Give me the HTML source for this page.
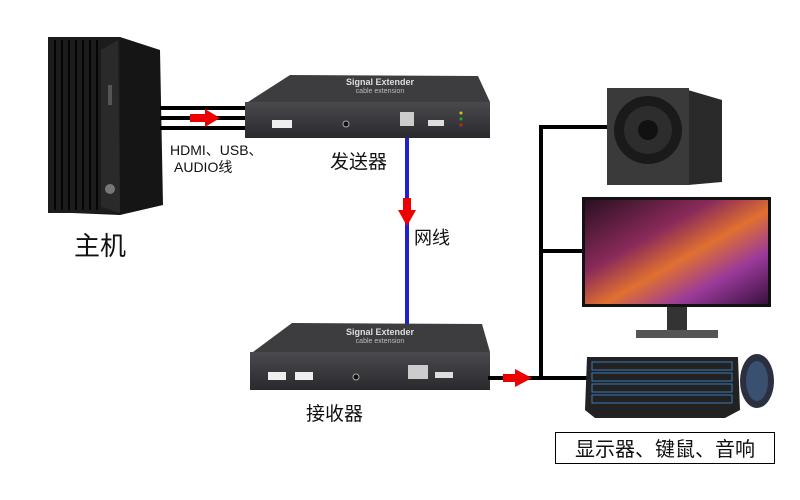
<!DOCTYPE html>
<html><head><meta charset="utf-8"><style>
html,body{margin:0;padding:0;background:#fff}
svg{display:block}
text{font-family:"Liberation Sans","Noto Sans CJK SC",sans-serif}
</style></head><body>
<svg width="800" height="500" viewBox="0 0 800 500" xmlns="http://www.w3.org/2000/svg">
<defs>
<linearGradient id="scr" x1="0" y1="0" x2="1" y2="1">
<stop offset="0" stop-color="#2a1020"/><stop offset="0.35" stop-color="#8a2a5a"/><stop offset="0.55" stop-color="#e07030"/><stop offset="0.75" stop-color="#9a3a9a"/><stop offset="1" stop-color="#3a1040"/>
</linearGradient>
<linearGradient id="box" x1="0" y1="0" x2="0" y2="1"><stop offset="0" stop-color="#4a4a4e"/><stop offset="1" stop-color="#2a2a2e"/></linearGradient>
</defs>

<!-- PC tower -->
<path d="M48 37 L120 37 L160 50 L163 205 L120 215 L48 212 Z" fill="#151515"/>
<rect x="48" y="37" width="72" height="176" fill="#1c1c1c"/>
<g stroke="#050505" stroke-width="2">
<line x1="55" y1="40" x2="55" y2="210"/><line x1="62" y1="40" x2="62" y2="210"/><line x1="69" y1="40" x2="69" y2="210"/><line x1="76" y1="40" x2="76" y2="210"/><line x1="83" y1="40" x2="83" y2="210"/><line x1="90" y1="40" x2="90" y2="210"/><line x1="97" y1="40" x2="97" y2="210"/>
</g>
<path d="M101 50 L118 40 L120 213 L101 207 Z" fill="#2a2a2a"/>
<circle cx="110" cy="189" r="5" fill="#777"/>
<rect x="108" y="85" width="4" height="20" fill="#555"/>
<text x="100" y="255" font-size="26" text-anchor="middle" fill="#111">主机</text>

<!-- HDMI cables -->
<g stroke="#000" stroke-width="4">
<line x1="160" y1="108" x2="250" y2="108"/><line x1="160" y1="118" x2="250" y2="118"/><line x1="160" y1="128" x2="250" y2="128"/>
</g>
<path d="M190 114 L205 114 L205 109 L220 118 L205 127 L205 122 L190 122 Z" fill="#e00"/>
<text x="170" y="155" font-size="14" fill="#111">HDMI、USB、</text>
<text x="174" y="172" font-size="14" fill="#111">AUDIO线</text>

<!-- Sender -->
<path d="M248 102 L290 75 L478 76 L490 102 Z" fill="#3d3d40"/>
<text x="380" y="85" font-size="9" font-weight="bold" fill="#ddd" text-anchor="middle">Signal Extender</text>
<text x="380" y="93" font-size="7" fill="#bbb" text-anchor="middle">cable extension</text>
<rect x="245" y="102" width="245" height="36" fill="url(#box)"/>
<rect x="272" y="120" width="20" height="8" fill="#eee"/>
<circle cx="346" cy="124" r="3" fill="#111" stroke="#aaa"/>
<rect x="400" y="112" width="14" height="14" fill="#ccc"/>
<rect x="428" y="120" width="16" height="6" fill="#ddd"/>
<circle cx="461" cy="113" r="1.5" fill="#cc0"/><circle cx="461" cy="119" r="1.5" fill="#2a2"/><circle cx="461" cy="125" r="1.5" fill="#c22"/>
<text x="330" y="168" font-size="19" fill="#111">发送器</text>

<!-- network cable -->
<line x1="407" y1="138" x2="407" y2="325" stroke="#2020d0" stroke-width="4"/>
<path d="M403 198 L411 198 L411 210 L416 210 L407 226 L398 210 L403 210 Z" fill="#e00"/>
<text x="414" y="244" font-size="18" fill="#111">网线</text>

<!-- Receiver -->
<path d="M253 352 L292 323 L482 324 L490 352 Z" fill="#3d3d40"/>
<text x="380" y="335" font-size="9" font-weight="bold" fill="#ddd" text-anchor="middle">Signal Extender</text>
<text x="380" y="343" font-size="7" fill="#bbb" text-anchor="middle">cable extension</text>
<rect x="250" y="352" width="240" height="38" fill="url(#box)"/>
<rect x="268" y="372" width="18" height="8" fill="#eee"/><rect x="295" y="372" width="18" height="8" fill="#eee"/>
<circle cx="356" cy="377" r="3" fill="#111" stroke="#aaa"/>
<rect x="408" y="365" width="20" height="14" fill="#ccc"/>
<rect x="435" y="372" width="18" height="6" fill="#ddd"/>
<text x="306" y="420" font-size="19" fill="#111">接收器</text>

<!-- output lines -->
<g stroke="#000" stroke-width="4" fill="none">
<line x1="488" y1="378" x2="587" y2="378"/>
<line x1="541" y1="378" x2="541" y2="127"/>
<line x1="539" y1="127" x2="608" y2="127"/>
<line x1="541" y1="251" x2="584" y2="251"/>
</g>
<path d="M503 374 L515 374 L515 369 L532 378 L515 387 L515 382 L503 382 Z" fill="#e00"/>

<!-- speaker -->
<path d="M688 90 L722 100 L722 182 L688 185 Z" fill="#2a2a2a"/>
<rect x="607" y="88" width="82" height="97" fill="#3a3a3a"/>
<circle cx="648" cy="130" r="34" fill="#1a1a1a"/>
<circle cx="648" cy="130" r="24" fill="#2d2d2d"/>
<circle cx="648" cy="130" r="10" fill="#111"/>

<!-- monitor -->
<rect x="582" y="197" width="189" height="110" fill="#111"/>
<rect x="585" y="200" width="183" height="104" fill="url(#scr)"/>
<rect x="667" y="307" width="20" height="25" fill="#333"/>
<rect x="636" y="330" width="82" height="8" fill="#555"/>

<!-- keyboard -->
<path d="M587 357 L738 357 L740 410 L725 418 L595 418 L585 410 Z" fill="#222"/>
<g fill="none" stroke="#3a7ab8" stroke-width="1">
<rect x="592" y="362" width="140" height="8"/><rect x="592" y="373" width="140" height="8"/><rect x="592" y="384" width="140" height="8"/><rect x="592" y="395" width="140" height="8"/>
</g>
<ellipse cx="757" cy="381" rx="17" ry="27" fill="#2a3040"/>
<ellipse cx="757" cy="381" rx="11" ry="20" fill="#3a5070"/>

<!-- label box -->
<rect x="555.5" y="432.5" width="219" height="31" fill="#fff" stroke="#000" stroke-width="1"/>
<text x="665" y="456" font-size="20" fill="#111" text-anchor="middle">显示器、键鼠、音响</text>
</svg>
</body></html>
